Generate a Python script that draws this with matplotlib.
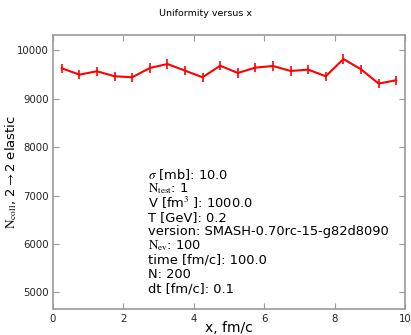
import numpy as np
import matplotlib
matplotlib.use('Agg')
import matplotlib.pyplot as plt

# bin centres along x and collision counts per bin
x = np.array([0.25, 0.75, 1.25, 1.75, 2.25, 2.75, 3.25, 3.75, 4.25, 4.75,
              5.25, 5.75, 6.25, 6.75, 7.25, 7.75, 8.25, 8.75, 9.25, 9.75])
ncoll = np.array([9623, 9493, 9562, 9459, 9438, 9630, 9712, 9575, 9438, 9678,
                  9527, 9637, 9671, 9568, 9596, 9459, 9815, 9603, 9308, 9377])
err = np.sqrt(ncoll)

info = [r'$\sigma$ [mb]: 10.0',
        r'$\mathrm{N_{test}}$: 1',
        r'V [fm$^3$ ]: 1000.0',
        'T [GeV]: 0.2',
        'version: SMASH-0.70rc-15-g82d8090',
        r'$\mathrm{N_{ev}}$: 100',
        'time [fm/c]: 100.0',
        'N: 200',
        'dt [fm/c]: 0.1']

plt.rcParams['mathtext.fontset'] = 'stix'
grey = '#999999'

fig = plt.figure(figsize=(4.11, 3.35), dpi=100)
ax = fig.add_axes([53/411, 1 - 308.5/335, 352/411, 273.5/335])
ax.errorbar(x, ncoll, yerr=err, color='red', lw=1.5, elinewidth=1.2, capsize=0)
ax.set_xlim(0, 10)
ax.set_ylim(4670, 10310)
ax.set_xticks([0, 2, 4, 6, 8, 10])
ax.set_yticks([5000, 6000, 7000, 8000, 9000, 10000])
for s in ax.spines.values():
    s.set_color(grey)
    s.set_linewidth(1.2)
ax.tick_params(direction='in', top=True, right=True, color=grey,
               length=4, width=0.8, labelsize=7.3, labelcolor='#222222')
ax.tick_params(axis='x', pad=4)
ax.tick_params(axis='y', pad=3)

ax.set_xlabel('x, fm/c', fontsize=10)
ax.xaxis.set_label_coords(0.5, -12.5/273.5, transform=ax.transAxes)
ax.set_ylabel(r'$\mathrm{N_{coll}}$, 2$\to$2 elastic', fontsize=9.5)
ax.yaxis.set_label_coords(-34/352, 0.5)
fig.text(0.5, 1 - 13/335, 'Uniformity versus x', ha='center', va='center', fontsize=6.8)

for i, line in enumerate(info):
    ax.text(0.27, 0.49 - i * 14.3 / 273.5, line, transform=ax.transAxes,
            fontsize=9.4, va='center', ha='left')

fig.savefig('out.png', dpi=100)
